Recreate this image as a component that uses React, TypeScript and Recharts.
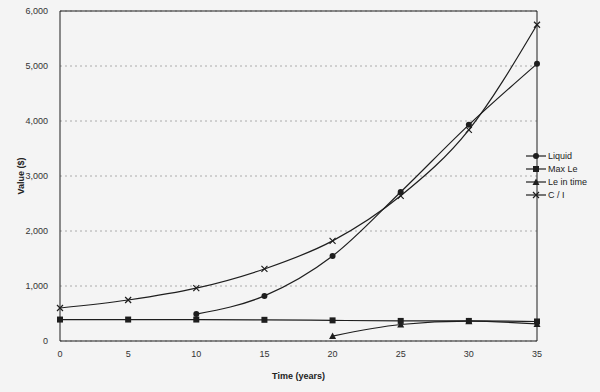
import { LineChart, Line, XAxis, YAxis, CartesianGrid, ReferenceLine } from "recharts";

const years = [0, 5, 10, 15, 20, 25, 30, 35];
const liquid = [null, null, 490, 820, 1545, 2710, 3930, 5040];
const maxLe = [390, 390, 390, 385, 375, 365, 365, 355];
const leInTime = [null, null, null, null, 90, 300, 360, 310];
const ci = [600, 745, 960, 1310, 1820, 2640, 3840, 5750];

const yTicks = [0, 1000, 2000, 3000, 4000, 5000, 6000];
const xTicks = [0, 5, 10, 15, 20, 25, 30, 35];

const data = years.map((t, i) => ({
  t,
  liquid: liquid[i],
  maxLe: maxLe[i],
  leInTime: leInTime[i],
  ci: ci[i],
}));

const INK = "#1e1e1e";
const FONT = "'Liberation Sans', Arial, sans-serif";

type Shape = "circle" | "square" | "triangle" | "cross";

const series: { key: string; name: string; shape: Shape }[] = [
  { key: "liquid", name: "Liquid", shape: "circle" },
  { key: "maxLe", name: "Max Le", shape: "square" },
  { key: "leInTime", name: "Le in time", shape: "triangle" },
  { key: "ci", name: "C / I", shape: "cross" },
];

function Marker({ shape, cx, cy }: { shape: Shape; cx: number; cy: number }) {
  if (shape === "circle") return <circle cx={cx} cy={cy} r={3} fill={INK} />;
  if (shape === "square")
    return <rect x={cx - 3} y={cy - 3} width={6} height={6} fill={INK} />;
  if (shape === "triangle")
    return (
      <polygon
        points={`${cx},${cy - 3.5} ${cx + 3.5},${cy + 3} ${cx - 3.5},${cy + 3}`}
        fill={INK}
      />
    );
  return (
    <path
      d={`M${cx - 3},${cy - 3}L${cx + 3},${cy + 3}M${cx + 3},${cy - 3}L${cx - 3},${cy + 3}`}
      stroke={INK}
      strokeWidth={1.2}
    />
  );
}

function dotFor(shape: Shape) {
  return (p: any) => {
    if (p.value == null || p.cx == null || p.cy == null)
      return <g key={p.key} />;
    return (
      <g key={p.key}>
        <Marker shape={shape} cx={p.cx} cy={p.cy} />
      </g>
    );
  };
}

export default function App() {
  return (
    <div
      style={{
        position: "absolute",
        left: 0,
        top: 0,
        width: 600,
        height: 392,
        background: "#f4f4f4",
        fontFamily: FONT,
      }}
    >
      <LineChart
        width={600}
        height={392}
        data={data}
        margin={{ top: 11, right: 63, left: 0, bottom: 0 }}
      >
        <CartesianGrid
          vertical={false}
          stroke="#9a9a9a"
          strokeDasharray="2 3"
          strokeWidth={0.8}
        />
        <XAxis
          dataKey="t"
          type="number"
          domain={[0, 35]}
          ticks={xTicks}
          height={51}
          stroke={INK}
          tickLine={false}
          tick={{ fill: "#333", fontSize: 9, fontFamily: FONT }}
          tickMargin={4}
          label={{
            value: "Time (years)",
            position: "insideBottom",
            offset: 13,
            style: { fill: "#222", fontSize: 9, fontWeight: 700, fontFamily: FONT },
          }}
        />
        <YAxis
          type="number"
          domain={[0, 6000]}
          ticks={yTicks}
          width={60}
          stroke={INK}
          tickLine={false}
          tickMargin={6}
          tickFormatter={(v: number) => v.toLocaleString("en-US")}
          tick={{ fill: "#333", fontSize: 9, fontFamily: FONT }}
          label={{
            content: (props: any) => {
              const vb = props.viewBox;
              const x = 21;
              const y = vb.y + vb.height / 2;
              return (
                <text
                  x={x}
                  y={y}
                  transform={`rotate(-90 ${x} ${y})`}
                  textAnchor="middle"
                  dominantBaseline="central"
                  fill="#222"
                  fontSize={9}
                  fontWeight={700}
                  fontFamily={FONT}
                >
                  Value ($)
                </text>
              );
            },
          }}
        />
        <ReferenceLine y={6000} stroke={INK} strokeWidth={1} ifOverflow="visible" />
        <ReferenceLine x={35} stroke={INK} strokeWidth={1} ifOverflow="visible" />
        {series.map((s) => (
          <Line
            key={s.key}
            dataKey={s.key}
            name={s.name}
            type="monotone"
            stroke={INK}
            strokeWidth={1.2}
            dot={dotFor(s.shape)}
            activeDot={false}
            isAnimationActive={false}
          />
        ))}
      </LineChart>
      <div style={{ position: "absolute", left: 526, top: 149, fontSize: 9, color: "#222" }}>
        {series.map((s) => (
          <div key={s.key} style={{ display: "flex", alignItems: "center", height: 13 }}>
            <svg width={20} height={10} style={{ marginRight: 2 }}>
              <line x1={0} y1={5} x2={20} y2={5} stroke={INK} strokeWidth={1.2} />
              <Marker shape={s.shape} cx={10} cy={5} />
            </svg>
            <span>{s.name}</span>
          </div>
        ))}
      </div>
    </div>
  );
}
